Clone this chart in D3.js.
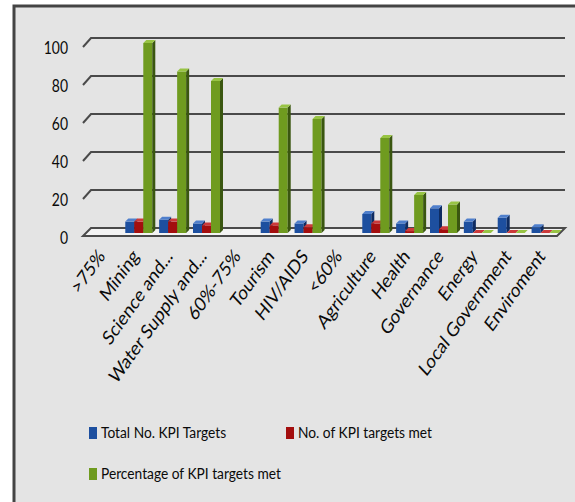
<!DOCTYPE html>
<html>
<head>
<meta charset="utf-8">
<script src="https://cdn.jsdelivr.net/npm/d3@7"></script>
<style>
html,body{margin:0;padding:0;background:#fff;}
svg{display:block;}
text{font-family:Lato,"Open Sans",sans-serif;fill:#0a0a0a;}
</style>
</head>
<body>
<svg id="chart" width="575" height="502"></svg>
<script>
// ---- data ----
const categories = [">75%", "Mining", "Science and...", "Water Supply and...", "60%-75%", "Tourism", "HIV/AIDS", "<60%", "Agriculture", "Health", "Governance", "Energy", "Local Government", "Enviroment"];
const totalTargets = [null, 6, 7, 5, null, 6, 5, null, 10, 5, 13, 6, 8, 3];
const targetsMet   = [null, 6, 6, 4, null, 4, 3, null, 5, 1, 2, 0, 0, 0];
const percentMet   = [null, 100, 85, 80, null, 66, 60, null, 50, 20, 15, 0, 0, 0];
const seriesNames  = ["Total No. KPI Targets", "No. of KPI targets met", "Percentage of KPI targets met"];
const yTicks = [0, 20, 40, 60, 80, 100];

const series = [totalTargets, targetsMet, percentMet];
const palette = [
  {front:"#1d4f9f", top:"#4f7fcc", side:"#0e2c62"},
  {front:"#a30e0e", top:"#cc3a3a", side:"#5c0606"},
  {front:"#6f9b1f", top:"#98c444", side:"#3a5610"}
];

const SX = 0.82; // horizontal text compression
const svg = d3.select("#chart");

// panel
svg.append("rect").attr("x", 14).attr("y", 6).attr("width", 570).attr("height", 500)
  .attr("fill", "#e4e4e4").attr("stroke", "#444").attr("stroke-width", 3);

const x = d3.scaleBand().domain(categories).range([88, 562]);
const y = d3.scaleLinear().domain([0, 100]).range([233, 43]);
const D = 3; // depth offset
const bw = 9;

// gridlines (back wall) and side wall diagonals
const grid = svg.append("g");
yTicks.filter(t => t > 0).forEach(t => {
  const yb = y(t) - 5;
  grid.append("path")
    .attr("d", `M83,${y(t) + 4}L91,${yb}L565,${yb}`)
    .attr("fill", "none").attr("stroke", "#4a4a4a").attr("stroke-width", 2);
});

// floor
svg.append("path")
  .attr("d", `M91,${y(0) - 5}L565,${y(0) - 5}L557,${y(0) + 3}L83,${y(0) + 3}Z`)
  .attr("fill", "#f3f3f3").attr("stroke", "#4a4a4a").attr("stroke-width", 2);

// y tick labels
yTicks.forEach(t => {
  svg.append("text")
    .attr("transform", `translate(68,${y(t) + 11}) scale(${SX},1)`)
    .attr("text-anchor", "end")
    .attr("font-size", 17)
    .text(t);
});

// bars
const bars = svg.append("g");
categories.forEach((c, i) => {
  const cx = x(c) + x.bandwidth() / 2;
  series.forEach((s, k) => {
    const v = s[i];
    if (v === null) return;
    const x0 = cx - 13.5 + k * bw;
    const yt = y(v), yb = y(0);
    const col = palette[k];
    const g = bars.append("g");
    g.append("rect").attr("x", x0).attr("y", yt).attr("width", bw).attr("height", Math.max(0, yb - yt))
      .attr("fill", col.front);
    g.append("path").attr("d", `M${x0 + bw},${yt}L${x0 + bw + D},${yt - D}L${x0 + bw + D},${yb - D}L${x0 + bw},${yb}Z`)
      .attr("fill", col.side);
    g.append("path").attr("d", `M${x0},${yt}L${x0 + D},${yt - D}L${x0 + bw + D},${yt - D}L${x0 + bw},${yt}Z`)
      .attr("fill", col.top);
  });
});

// category labels
categories.forEach(c => {
  const cx = x(c) + x.bandwidth() / 2;
  svg.append("text")
    .attr("transform", `translate(${cx + 1},${257}) scale(${SX},1) rotate(-49)`)
    .attr("text-anchor", "end")
    .attr("font-size", 20)
    .text(c);
});

// legend
const legendPos = [[89, 427], [286, 427], [89, 468]];
seriesNames.forEach((n, k) => {
  const [lx, ly] = legendPos[k];
  svg.append("rect").attr("x", lx).attr("y", ly).attr("width", 8).attr("height", 12)
    .attr("fill", palette[k].front);
  svg.append("text")
    .attr("transform", `translate(${lx + 12},${ly + 11}) scale(0.86,1)`)
    .attr("font-size", 16)
    .text(n);
});
</script>
</body>
</html>
